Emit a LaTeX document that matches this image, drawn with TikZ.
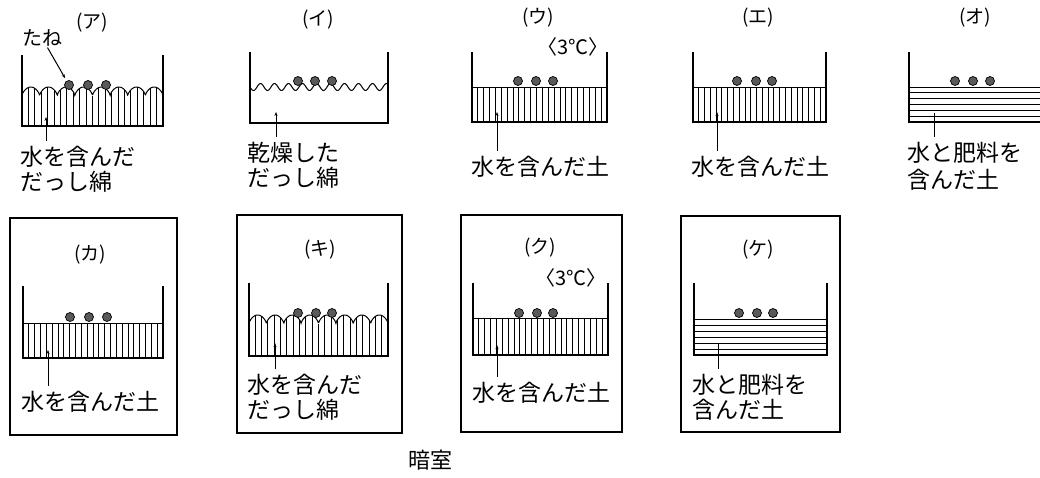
\documentclass[tikz,border=0pt]{standalone}
\usepackage{fontspec}
\newfontfamily\jp{Noto Sans CJK JP}
\newfontfamily\jpp[RawFeature=+palt]{Noto Sans CJK JP}
\usetikzlibrary{arrows.meta}

% container: left, right, top, bottom
\newcommand\beaker[4]{\draw[wall] (#1,#3) -- (#1,#4) -- (#2,#4) -- (#2,#3);}
% soil with vertical hatching: left, right, surface, bottom
\newcommand\soilv[4]{%
  \draw[hatch] (#1,#3) -- (#2,#3);
  \pgfmathsetmacro\nlines{int((#2-#1)/6)}
  \foreach \k in {1,...,\nlines}{%
    \pgfmathsetmacro\xx{#1+\k*(#2-#1)/(\nlines+1)}
    \draw[hatch] (\xx,#3) -- (\xx,#4);}}
% soil with horizontal layers: left, right, surface, bottom
\newcommand\soilh[4]{%
  \foreach \k in {0,...,6}{%
    \pgfmathsetmacro\yy{#3+\k*(#4-#3)/6}
    \draw[hatch] (#1,\yy) -- (#2,\yy);}}
% wet cotton: left, right, crest y, depth, number of bumps, bottom
\newcommand\cotton[6]{%
  \pgfmathsetmacro\cw{(#2-#1)/#5}
  \draw[hatch] plot[domain=#1:#2,samples=260] (\x,{#3+#4-#4*abs(sin((\x-#1)/\cw*180))^0.6});
  \foreach \k in {1,...,21}{%
    \pgfmathsetmacro\xx{#1+\k*(#2-#1)/22}
    \pgfmathsetmacro\yy{#3+#4-#4*abs(sin((\xx-#1)/\cw*180))^0.6}
    \draw[hatch] (\xx,\yy) -- (\xx,#6);}}

\begin{document}
\begin{tikzpicture}[x=1pt,y=-1pt,
  wall/.style={line width=1.4pt},
  hatch/.style={line width=1pt},
  frame/.style={line width=1.5pt},
  seed/.style={circle,draw,fill=black!65,line width=0.7pt,minimum size=9pt,inner sep=0pt},
  ptr/.style={line width=1pt,-{Stealth[length=4pt,width=3pt]}},
  plainptr/.style={line width=1pt},
  desc/.style={font=\jp\fontsize{23}{27}\selectfont,anchor=base west,inner sep=0pt,outer ysep=5pt},
  tag/.style={font=\jp\fontsize{19}{22}\selectfont,inner sep=0pt},
  temp/.style={font=\jpp\fontsize{20}{24}\selectfont,inner sep=0pt}]

\useasboundingbox (0,0) rectangle (1040,477);

% ---------- top row ----------
% (ア) wet cotton
\node[tag] (tA) at (92,23) {(ア)};
\beaker{22}{163}{55}{126}
\cotton{22}{163}{87}{9}{8}{126}
\node[seed] (sA1) at (69,85) {};
\node[seed] (sA2) at (88,85) {};
\node[seed] (sA3) at (106,85) {};
\node[font=\jp\fontsize{20}{24}\selectfont,inner sep=1pt] (tane) at (42,38) {たね};
\draw[ptr,shorten >=3pt] (tane) -- (sA1);
\coordinate (pA) at (46,117);
\node[desc] (dA1) at (20,165) {水を含んだ};
\node[desc] (dA2) at (20,190) {だっし綿};
\draw[ptr] (dA1.north -| pA) -- (pA);

% (イ) dry cotton
\node[tag] (tB) at (318,20) {(イ)};
\beaker{250}{388}{52}{123}
\draw[hatch] plot[domain=250:388,samples=200] (\x,{87+3.5*sin((\x-250)/14*360)});
\node[seed] (sB1) at (298,81) {};
\node[seed] (sB2) at (315,81) {};
\node[seed] (sB3) at (332,81) {};
\coordinate (pB) at (276,112);
\node[desc] (dB1) at (247,161) {乾燥した};
\node[desc] (dB2) at (247,186) {だっし綿};
\draw[ptr] (dB1.north -| pB) -- (pB);

% (ウ) wet soil at 3 degrees
\node[tag] (tC) at (538,18) {(ウ)};
\node[temp] (kC) at (573,47) {〈3℃〉};
\beaker{472}{607}{52}{122}
\soilv{472}{607}{87}{122}
\node[seed] (sC1) at (518,81) {};
\node[seed] (sC2) at (536,81) {};
\node[seed] (sC3) at (553,81) {};
\coordinate (pC) at (497,112);
\node[desc] (dC1) at (471,175) {水を含んだ土};
\draw[ptr] (dC1.north -| pC) -- (pC);

% (エ) wet soil
\node[tag] (tD) at (758,18) {(エ)};
\beaker{693}{826}{52}{122}
\soilv{693}{826}{87}{122}
\node[seed] (sD1) at (737,81) {};
\node[seed] (sD2) at (756,81) {};
\node[seed] (sD3) at (772,81) {};
\coordinate (pD) at (717,112);
\node[desc] (dD1) at (691,175) {水を含んだ土};
\draw[ptr] (dD1.north -| pD) -- (pD);

% (オ) soil with water and fertilizer
\node[tag] (tE) at (975,18) {(オ)};
\draw[wall] (909,52) -- (909,122) -- (1045,122);
\soilh{909}{1045}{87}{122}
\node[seed] (sE1) at (955,81) {};
\node[seed] (sE2) at (973,81) {};
\node[seed] (sE3) at (990,81) {};
\coordinate (pE) at (934,113);
\node[desc] (dE1) at (907,161) {水と肥料を};
\node[desc] (dE2) at (907,188) {含んだ土};
\draw[plainptr] (dE1.north -| pE) -- (pE);

% ---------- bottom row (dark room) ----------
% (カ)
\draw[frame] (10,218) rectangle (177,435);
\node[tag] (tF) at (90,255) {(カ)};
\beaker{23}{163}{286}{358}
\soilv{23}{163}{323}{358}
\node[seed] (sF1) at (70,317) {};
\node[seed] (sF2) at (89,317) {};
\node[seed] (sF3) at (107,317) {};
\coordinate (pF) at (48,350);
\node[desc] (dF1) at (21,410) {水を含んだ土};
\draw[ptr] (dF1.north -| pF) -- (pF);

% (キ)
\draw[frame] (237,215) rectangle (402,433);
\node[tag] (tG) at (320,250) {(キ)};
\beaker{249}{388}{283}{356}
\cotton{249}{388}{315}{9}{8}{356}
\node[seed] (sG1) at (298,313) {};
\node[seed] (sG2) at (316,313) {};
\node[seed] (sG3) at (332,313) {};
\coordinate (pG) at (275,343);
\node[desc] (dG1) at (247,393) {水を含んだ};
\node[desc] (dG2) at (247,418) {だっし綿};
\draw[ptr] (dG1.north -| pG) -- (pG);

% (ク) at 3 degrees
\draw[frame] (461,215) rectangle (622,432);
\node[tag] (tH) at (540,248) {(ク)};
\node[temp] (kH) at (571,278) {〈3℃〉};
\beaker{473}{608}{283}{355}
\soilv{473}{608}{318}{355}
\node[seed] (sH1) at (519,313) {};
\node[seed] (sH2) at (537,313) {};
\node[seed] (sH3) at (553,313) {};
\coordinate (pH) at (497,345);
\node[desc] (dH1) at (472,401) {水を含んだ土};
\draw[ptr] (dH1.north -| pH) -- (pH);

% (ケ)
\draw[frame] (681,216) rectangle (840,432);
\node[tag] (tI) at (758,250) {(ケ)};
\beaker{694}{827}{283}{355}
\soilh{694}{827}{319}{355}
\node[seed] (sI1) at (739,313) {};
\node[seed] (sI2) at (757,313) {};
\node[seed] (sI3) at (773,313) {};
\coordinate (pI) at (718,343);
\node[desc] (dI1) at (692,393) {水と肥料を};
\node[desc] (dI2) at (692,418) {含んだ土};
\draw[plainptr] (dI1.north -| pI) -- (pI);

\node[font=\jp\fontsize{22}{26}\selectfont,inner sep=0pt] (dark) at (430,460) {暗室};
\end{tikzpicture}
\end{document}
